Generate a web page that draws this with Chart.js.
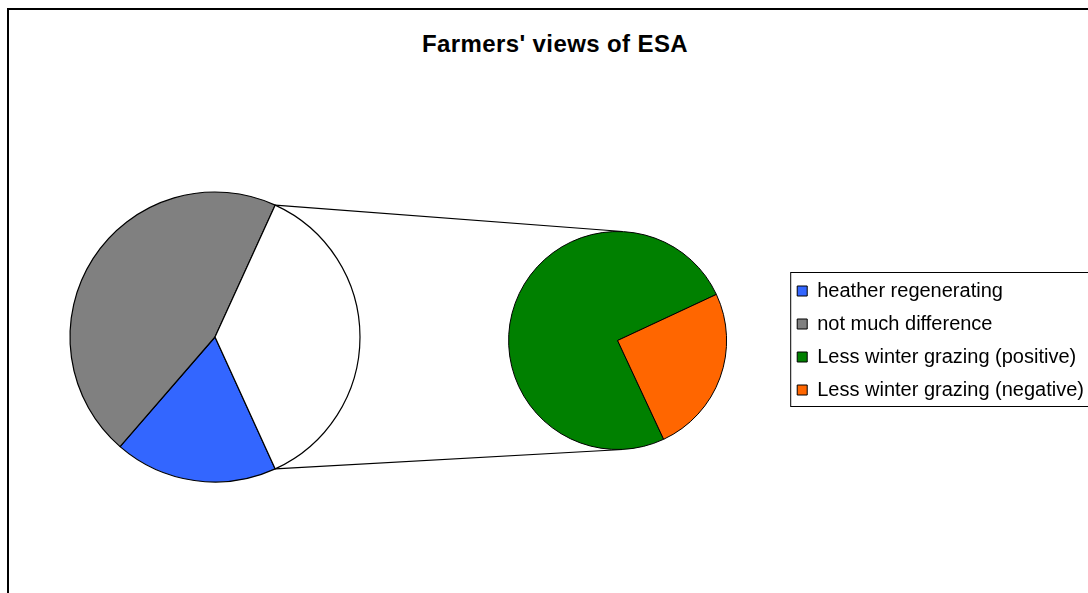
<!DOCTYPE html>
<html>
<head>
<meta charset="utf-8">
<script src="https://cdn.jsdelivr.net/npm/chart.js@4/dist/chart.umd.min.js"></script>
<style>
  html, body { margin: 0; padding: 0; background: #fff; overflow: hidden; width: 1088px; height: 593px; }
  #frame { position: absolute; left: 7px; top: 8px; width: 1200px; height: 700px; border: 2px solid #000; box-sizing: border-box; }
  #title { position: absolute; left: 0; width: 1110px; top: 30px; text-align: center;
    font: bold 24px "Liberation Sans", Arial, sans-serif; letter-spacing: 0.4px; color: #000; }
  #mainWrap { position: absolute; left: 0; top: 0; width: 1088px; height: 593px; }
  #subWrap { position: absolute; left: 451px; top: 190px; width: 663px; height: 301px; }
</style>
</head>
<body>
<div id="frame"></div>
<div id="title">Farmers' views of ESA</div>
<div id="mainWrap"><canvas id="mainPie"></canvas></div>
<div id="subWrap"><canvas id="subPie"></canvas></div>
<script>
var categories = ["heather regenerating", "not much difference", "Less winter grazing (positive)", "Less winter grazing (negative)"];
var counts = [6, 15, 9, 3];
var colors = ["#3366FF", "#808080", "#008000", "#FF6600"];

// main pie: first two categories plus the "other" slice that is split out
var mainValues = [counts[0], counts[1], counts[2] + counts[3]];
var mainColors = [colors[0], colors[1], "#FFFFFF"];
var subValues = [counts[2], counts[3]];
var subColors = [colors[2], colors[3]];

Chart.defaults.font.family = "'Liberation Sans', Arial, sans-serif";

var legendBox = {
  id: "legendBox",
  afterDraw: function(chart) {
    var boxes = chart.legend.legendHitBoxes;
    if (!boxes || !boxes.length) return;
    var first = boxes[0], last = boxes[boxes.length - 1];
    var ctx = chart.ctx;
    ctx.save();
    ctx.strokeStyle = "#000";
    ctx.lineWidth = 1;
    ctx.strokeRect(first.left - 6.5, first.top - 8.5, 330, last.top + last.height - first.top + 15);
    ctx.restore();
  }
};

var subChart = new Chart(document.getElementById("subPie"), {
  type: "pie",
  data: {
    labels: [categories[2], categories[3]],
    datasets: [{ data: subValues, backgroundColor: subColors, borderColor: "#000", borderWidth: 1 }]
  },
  options: {
    responsive: true,
    maintainAspectRatio: false,
    animation: false,
    rotation: 155,
    radius: 109,
    layout: { padding: { right: 20 } },
    plugins: {
      title: { display: false },
      tooltip: { enabled: false },
      legend: {
        display: true,
        position: "right",
        onClick: null,
        labels: {
          color: "#000",
          font: { size: 20 },
          boxWidth: 10,
          boxHeight: 10,
          padding: 13,
          generateLabels: function() {
            return categories.map(function(c, i) {
              return { text: c, fillStyle: colors[i], strokeStyle: "#000", lineWidth: 1, hidden: false, index: i };
            });
          }
        }
      }
    }
  },
  plugins: [legendBox]
});

// lines from the split-out slice to the top and bottom of the second pie
var connectors = {
  id: "connectors",
  afterDraw: function(chart) {
    var other = chart.getDatasetMeta(0).data[2];
    var sub = subChart.getDatasetMeta(0).data[0];
    var ox = 451, oy = 190;
    var sx = sub.x + ox, sy = sub.y + oy, r = sub.outerRadius;
    var R = other.outerRadius;
    var ctx = chart.ctx;
    ctx.save();
    ctx.strokeStyle = "#000";
    ctx.lineWidth = 1.2;
    ctx.beginPath();
    ctx.moveTo(other.x + R * Math.cos(other.startAngle), other.y + R * Math.sin(other.startAngle));
    ctx.lineTo(sx + 5, sy - r);
    ctx.moveTo(other.x + R * Math.cos(other.endAngle), other.y + R * Math.sin(other.endAngle));
    ctx.lineTo(sx + 5, sy + r);
    ctx.stroke();
    ctx.restore();
  }
};

var mainChart = new Chart(document.getElementById("mainPie"), {
  type: "pie",
  data: {
    labels: ["heather regenerating", "not much difference", "Other"],
    datasets: [{ data: mainValues, backgroundColor: mainColors, borderColor: "#000", borderWidth: 1.2 }]
  },
  options: {
    responsive: true,
    maintainAspectRatio: false,
    animation: false,
    rotation: 155.45,
    radius: 145,
    layout: { padding: { left: 70, right: 728, top: 192, bottom: 111 } },
    plugins: {
      legend: { display: false },
      tooltip: { enabled: false }
    }
  },
  plugins: [connectors]
});
</script>
</body>
</html>
